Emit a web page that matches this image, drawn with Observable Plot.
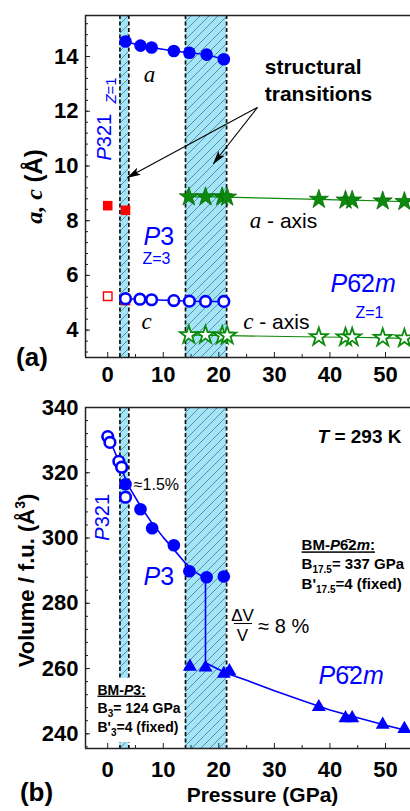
<!DOCTYPE html>
<html><head><meta charset="utf-8">
<script src="https://cdn.jsdelivr.net/npm/d3@7"></script>
<script src="https://cdn.jsdelivr.net/npm/@observablehq/plot@0.6"></script>
<style>
html,body{margin:0;padding:0;background:#fff;}
#chart{width:410px;height:811px;position:relative;overflow:hidden;background:#fff;}
#chart svg{display:block;}
</style></head><body>
<svg width="0" height="0" style="position:absolute;left:0;top:0">
  <defs>
    <pattern id="hatch" patternUnits="userSpaceOnUse" width="9" height="9">
      <rect width="9" height="9" fill="#a2e5f8"/>
      <path d="M0,9 L9,0 M-1,1 L1,-1 M8,10 L10,8" stroke="#4d6570" stroke-width="0.7"/>
    </pattern>
    <marker id="ahead" viewBox="0 0 14 8" refX="13" refY="4" markerWidth="14" markerHeight="8" markerUnits="userSpaceOnUse" orient="auto">
      <path d="M0,0 L14,4 L0,8 L3,4 Z" fill="#000"/>
    </marker>
  </defs>
</svg>
<div id="chart"></div>
<script>
// ---------------- data ----------------
const pressureTicks = [0, 10, 20, 30, 40, 50];
const pressureMinor = [5, 15, 25, 35, 45];
const latticeTicks = [4, 6, 8, 10, 12, 14];
const volumeTicks = [240, 260, 280, 300, 320, 340];

// transition regions (GPa)
const bandStart = [2.2, 14.0];
const bandEnd = [3.8, 21.4];

// panel (a): lattice parameters (Å)
const p3P_a = [3.2, 5.9, 7.9, 11.9, 14.7, 17.8, 20.9];
const p3_a  = [14.55, 14.4, 14.33, 14.2, 14.14, 14.07, 13.9];
const p3P_c = [3.2, 5.8, 7.9, 11.9, 14.7, 17.6, 20.9];
const p3_c  = [5.15, 5.13, 5.11, 5.08, 5.06, 5.05, 5.05];
const p321P_filled = [0, 3.2, 3.2];
const p321_filled  = [8.55, 8.38, 5.08];
const p321P_open = [0];
const p321_open  = [5.24];
const hexP   = [14.6, 17.6, 20.6, 21.5, 38, 42.8, 44, 49.5, 53.4];
const hex_a  = [8.87, 8.87, 8.87, 8.86, 8.78, 8.75, 8.75, 8.72, 8.70];
const hex_c  = [3.82, 3.82, 3.80, 3.80, 3.75, 3.74, 3.74, 3.72, 3.70];

// panel (b): volume per formula unit (Å^3)
const volP321P = [0, 0.4, 2.0, 2.5, 3.2];
const volP321  = [331.1, 329.3, 323.5, 321.7, 312.5];
const volP3P   = [3.2, 5.9, 8.0, 11.9, 14.7, 17.8, 20.9];
const volP3    = [316.5, 308.8, 303.0, 297.8, 289.8, 288.0, 288.2];
const volHexP  = [14.8, 17.6, 20.9, 21.9, 38, 42.8, 44, 49.5, 53.4];
const volHex   = [260.6, 260.3, 258.4, 259.2, 248.2, 244.8, 244.8, 242.8, 241.5];
// Birch-Murnaghan fit curves as drawn (with the jump at the transition)
const fitP = [0, 1, 2, 3, 4, 6, 8, 10, 12, 14, 16, 17.6, 17.6, 20, 22, 25, 30, 35, 40, 45, 50, 55];
const fitV = [331.5, 327.5, 323.5, 319.0, 315.2, 309.5, 304.5, 300.2, 296.3, 292.3, 289.3, 287.6,
              261.8, 259.7, 258.2, 256.4, 253.2, 250.2, 247.3, 244.9, 242.6, 240.5];

// ---------------- helpers ----------------
const BLUE = "#0000ff", RED = "#ff0000", GREEN = "#0b8a0b", FRAME = "#222";
const SANS = "'Liberation Sans', Arial, Helvetica, sans-serif";
const SERIF = "'Liberation Serif', 'Times New Roman', serif";
const zip = (xs, ys) => xs.map((x, i) => ({x, y: ys[i]}));
const bands = bandStart.map((s, i) => ({x1: s, x2: bandEnd[i]}));
const bandEdges = bandStart.concat(bandEnd);
function note(x, y, text, o = {}) {
  return Plot.text([{x, y, text}], {x: "x", y: "y", text: "text", fontFamily: SANS, ...o});
}
const it = s => `<tspan font-style="italic">${s}</tspan>`;
const hexName = `${it("P")}6\u03042${it("m")}`;
const rich = {
  "a, c (A)": `<tspan font-family="${SERIF}" font-style="italic">a, c</tspan> (Å)`,
  "Volume / f.u. (A3)": `Volume / f.u. (Å<tspan dy="-9" font-size="14">3</tspan><tspan dy="9">)</tspan>`,
  "a - axis": `<tspan font-family="${SERIF}" font-style="italic" font-size="23">a</tspan> - axis`,
  "c - axis": `<tspan font-family="${SERIF}" font-style="italic" font-size="23">c</tspan> - axis`,
  "P321": `${it("P")}321`,
  "P3": `${it("P")}3`,
  "P-62m": hexName,
  "Z=1r": `${it("Z")}=1`,
  "T = 293 K": `${it("T")} = 293 K`,
  "BM-P-62m:": `BM-${hexName}:`,
  "B17.5= 337 GPa": `B<tspan dy="4" font-size="10">17.5</tspan><tspan dy="-4">= 337 GPa</tspan>`,
  "B'17.5=4 (fixed)": `B'<tspan dy="4" font-size="10">17.5</tspan><tspan dy="-4">=4 (fixed)</tspan>`,
  "BM-P3:": `BM-${it("P")}3:`,
  "B3= 124 GPa": `B<tspan dy="4" font-size="10">3</tspan><tspan dy="-4">= 124 GPa</tspan>`,
  "B'3=4 (fixed)": `B'<tspan dy="4" font-size="10">3</tspan><tspan dy="-4">=4 (fixed)</tspan>`
};
const underlined = new Set(["BM-P-62m:", "BM-P3:"]);
function enrich(svg) {
  svg.querySelectorAll("text").forEach(t => {
    const k = t.textContent;
    if (rich[k] !== undefined) {
      if (underlined.has(k)) t.style.textDecoration = "underline";
      t.innerHTML = rich[k];
    }
  });
  svg.querySelectorAll('g[aria-label="link"] path').forEach(p => p.setAttribute("marker-end", "url(#ahead)"));
  return svg;
}
const tickFont = {fontSize: 22, fontWeight: "bold", fontFamily: SANS};

// ---------------- panel (a) ----------------
const yDomA = [3, 15.5];
const panelA = Plot.plot({
  width: 410, height: 400,
  marginLeft: 85, marginRight: 0, marginTop: 15, marginBottom: 43,
  style: {fontFamily: SANS, background: "transparent", overflow: "visible"},
  x: {domain: [-4, 54.5], label: null},
  y: {domain: yDomA, label: null},
  marks: [
    Plot.rect(bands, {x1: "x1", x2: "x2", y1: yDomA[0], y2: yDomA[1], fill: "url(#hatch)"}),
    Plot.ruleX(bandEdges, {stroke: "#111", strokeWidth: 1.7, strokeDasharray: "4,2.5"}),
    Plot.ruleX([-4], {stroke: FRAME, strokeWidth: 1.5}),
    Plot.ruleY(yDomA, {stroke: FRAME, strokeWidth: 1.5}),
    Plot.axisY(latticeTicks, {tickSize: 0, tickPadding: 7, label: null, ...tickFont}),
    Plot.axisY(latticeTicks, {tickSize: 5, dx: 5, text: null, label: null, stroke: FRAME}),
    Plot.axisY(d3.range(3.2, 15.5, 0.4), {tickSize: 3, dx: 3, text: null, label: null, stroke: FRAME}),
    Plot.axisX(pressureTicks, {tickSize: 0, tickPadding: 9, label: null, ...tickFont}),
    Plot.axisX(pressureTicks, {tickSize: 5, dy: -5, text: null, label: null, stroke: FRAME}),
    Plot.axisX(pressureMinor, {tickSize: 3, dy: -3, text: null, label: null, stroke: FRAME}),

    Plot.line(zip(p3P_a, p3_a), {x: "x", y: "y", stroke: BLUE, strokeWidth: 1.5}),
    Plot.line(zip(p3P_c, p3_c), {x: "x", y: "y", stroke: BLUE, strokeWidth: 1.5}),
    Plot.line(zip(hexP, hex_a), {x: "x", y: "y", stroke: GREEN, strokeWidth: 1.2}),
    Plot.line(zip(hexP, hex_c), {x: "x", y: "y", stroke: GREEN, strokeWidth: 1.2}),

    Plot.dot(zip(p321P_filled, p321_filled), {x: "x", y: "y", symbol: "square", r: 5.4, fill: RED}),
    Plot.dot(zip(p321P_open, p321_open), {x: "x", y: "y", symbol: "square", r: 4.8, fill: "white", stroke: RED, strokeWidth: 1.4}),
    Plot.dot(zip(p3P_a, p3_a), {x: "x", y: "y", r: 6.3, fill: BLUE}),
    Plot.dot(zip(p3P_c, p3_c), {x: "x", y: "y", r: 5.3, fill: "white", stroke: BLUE, strokeWidth: 2.6}),
    Plot.dot(zip(hexP, hex_a), {x: "x", y: "y", symbol: "star", r: 6, fill: GREEN, stroke: "#086b08", strokeWidth: 0.8}),
    Plot.dot(zip(hexP, hex_c), {x: "x", y: "y", symbol: "star", r: 5.6, fill: "white", stroke: GREEN, strokeWidth: 1.8}),

    Plot.link([{x1: 26.96, y1: 12.14, x2: 3.56, y2: 9.58}, {x1: 26.96, y1: 12.14, x2: 19.04, y2: 10.09}],
      {x1: "x1", y1: "y1", x2: "x2", y2: "y2", stroke: "#000", strokeWidth: 1.1}),

    note(-13.2, 9.25, "a, c (A)", {rotate: -90, fontSize: 24, fontWeight: "bold"}),
    note(-13.63, 2.98, "(a)", {fontSize: 26, fontWeight: "bold"}),
    note(7.52, 13.33, "a", {fontFamily: SERIF, fontStyle: "italic", fontSize: 23}),
    note(6.98, 4.30, "c", {fontFamily: SERIF, fontStyle: "italic", fontSize: 23}),
    note(-0.49, 10.2, "P321", {rotate: -90, textAnchor: "start", fontSize: 20, fill: BLUE}),
    note(0.68, 12.28, "Z=1r", {rotate: -90, textAnchor: "start", fontSize: 15, fill: BLUE}),
    note(6.44, 7.42, "P3", {textAnchor: "start", fontSize: 25, fill: BLUE}),
    note(6.26, 6.62, "Z=3", {textAnchor: "start", fontSize: 16, fill: BLUE}),
    note(28.27, 13.6, "structural", {textAnchor: "start", fontSize: 21, fontWeight: "bold"}),
    note(28.27, 12.61, "transitions", {textAnchor: "start", fontSize: 21, fontWeight: "bold"}),
    note(25.57, 7.97, "a - axis", {textAnchor: "start", fontSize: 21}),
    note(24.38, 4.28, "c - axis", {textAnchor: "start", fontSize: 21}),
    note(40.1, 5.67, "P-62m", {textAnchor: "start", fontSize: 25, fill: BLUE}),
    note(47.12, 4.63, "Z=1", {fontSize: 16, fill: BLUE})
  ]
});

// ---------------- panel (b) ----------------
const yDomB = [235.5, 340];
const panelB = Plot.plot({
  width: 410, height: 411,
  marginLeft: 85, marginRight: 0, marginTop: 7, marginBottom: 63,
  style: {fontFamily: SANS, background: "transparent", overflow: "visible"},
  x: {domain: [-4, 54.5], label: null},
  y: {domain: yDomB, label: null},
  marks: [
    Plot.rect(bands, {x1: "x1", x2: "x2", y1: yDomB[0], y2: yDomB[1], fill: "url(#hatch)"}),
    Plot.ruleX(bandEdges, {stroke: "#111", strokeWidth: 1.7, strokeDasharray: "4,2.5"}),
    // white box behind the BM-P3 note
    Plot.rect([{x1: -3.8, x2: 12.5, y1: 237.3, y2: 257}], {x1: "x1", x2: "x2", y1: "y1", y2: "y2", fill: "white"}),
    Plot.ruleX([-4], {stroke: FRAME, strokeWidth: 1.5}),
    Plot.ruleY(yDomB, {stroke: FRAME, strokeWidth: 1.5}),
    Plot.axisY(volumeTicks, {tickSize: 0, tickPadding: 7, label: null, ...tickFont}),
    Plot.axisY(volumeTicks, {tickSize: 5, dx: 5, text: null, label: null, stroke: FRAME}),
    Plot.axisY(d3.range(236, 340, 4), {tickSize: 3, dx: 3, text: null, label: null, stroke: FRAME}),
    Plot.axisX(pressureTicks, {tickSize: 0, tickPadding: 13, label: null, ...tickFont}),
    Plot.axisX(pressureTicks, {tickSize: 5, dy: -5, text: null, label: null, stroke: FRAME}),
    Plot.axisX(pressureMinor, {tickSize: 3, dy: -3, text: null, label: null, stroke: FRAME}),

    Plot.line(zip(fitP, fitV), {x: "x", y: "y", stroke: BLUE, strokeWidth: 1.6}),
    Plot.dot(zip(volP321P, volP321), {x: "x", y: "y", r: 5.3, fill: "white", stroke: BLUE, strokeWidth: 2.6}),
    Plot.dot(zip(volP3P, volP3), {x: "x", y: "y", r: 6.3, fill: BLUE}),
    Plot.dot(zip(volHexP, volHex), {x: "x", y: "y", symbol: "triangle", r: 5.2, fill: BLUE}),

    Plot.ruleY([{y: 273.8, x1: 22.8, x2: 26.06}], {y: "y", x1: "x1", x2: "x2", stroke: "#000", strokeWidth: 1}),
    note(24.26, 276.3, "ΔV", {fontSize: 17}),
    note(24.26, 270.1, "V", {fontSize: 17}),
    note(27.1, 272.9, "≈ 8 %", {textAnchor: "start", fontSize: 20}),

    note(-14.5, 287, "Volume / f.u. (A3)", {rotate: -90, fontSize: 22, fontWeight: "bold"}),
    note(-12.82, 222.0, "(b)", {fontSize: 26, fontWeight: "bold"}),
    note(27.86, 221.1, "Pressure (GPa)", {fontSize: 21, fontWeight: "bold"}),
    note(4.7, 316.25, "≈1.5%", {textAnchor: "start", fontSize: 16}),
    note(-0.85, 299.2, "P321", {rotate: -90, textAnchor: "start", fontSize: 20, fill: BLUE}),
    note(6.44, 288.2, "P3", {textAnchor: "start", fontSize: 25, fill: BLUE}),
    note(37.76, 331.1, "T = 293 K", {textAnchor: "start", fontSize: 19, fontWeight: "bold"}),
    note(34.9, 297.7, "BM-P-62m:", {textAnchor: "start", fontSize: 15, fontWeight: "bold"}),
    note(34.9, 291.9, "B17.5= 337 GPa", {textAnchor: "start", fontSize: 15, fontWeight: "bold"}),
    note(34.9, 285.8, "B'17.5=4 (fixed)", {textAnchor: "start", fontSize: 15, fontWeight: "bold"}),
    note(37.94, 257.6, "P-62m", {textAnchor: "start", fontSize: 25, fill: BLUE}),
    note(-1.84, 253.4, "BM-P3:", {textAnchor: "start", fontSize: 14, fontWeight: "bold"}),
    note(-1.84, 247.9, "B3= 124 GPa", {textAnchor: "start", fontSize: 14, fontWeight: "bold"}),
    note(-1.84, 241.8, "B'3=4 (fixed)", {textAnchor: "start", fontSize: 14, fontWeight: "bold"})
  ]
});

const chart = document.getElementById("chart");
chart.appendChild(enrich(panelA));
chart.appendChild(enrich(panelB));
</script>
</body></html>
